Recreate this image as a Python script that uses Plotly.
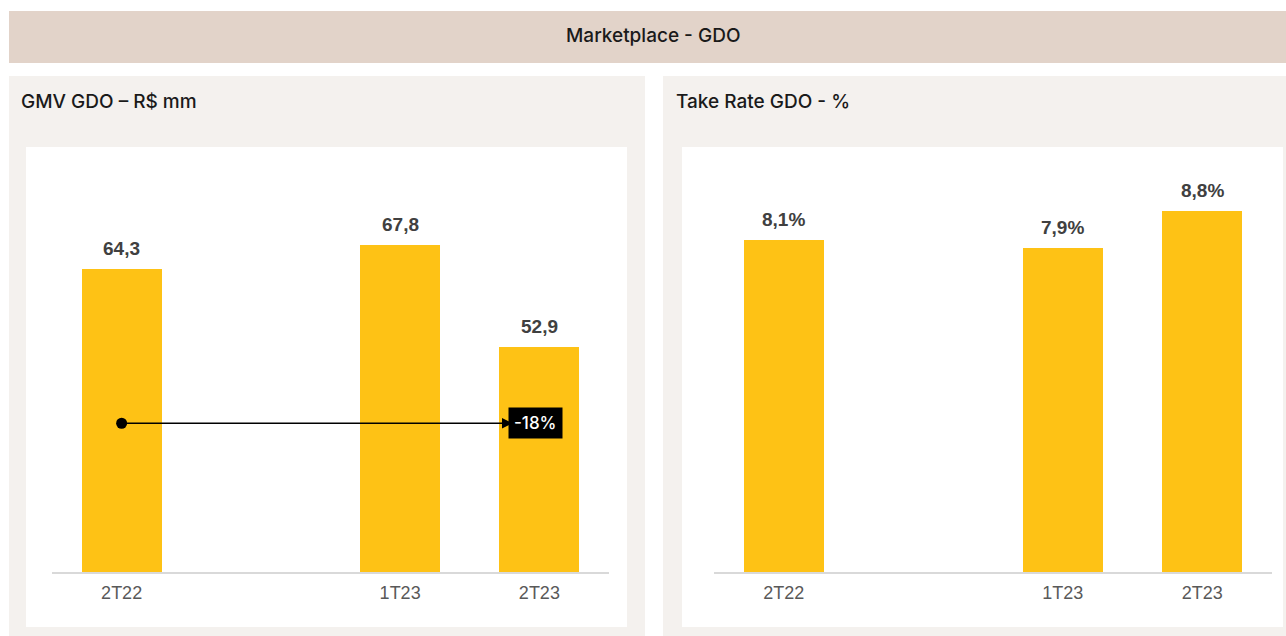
import plotly.graph_objects as go

W, H = 1286, 636

bar_slots = [0, 2, 3]
bar_labels = ["2T22", "1T23", "2T23"]
gmv = [64.3, 67.8, 52.9]
take_rate = [8.1, 7.9, 8.8]
gmv_change = "-18%"
arrow_level = 41.8

bar_color = "#FEC215"
label_color = "#404040"
tick_color = "#595959"


def px_x(p):
    return p / W


def px_y(p):
    return 1 - p / H


def br(v):
    # brazilian decimal comma
    return f"{v:.1f}".replace(".", ",")


fig = go.Figure()

fig.add_trace(go.Bar(
    x=bar_slots, y=gmv, width=0.575, marker=dict(color=bar_color, line=dict(width=0)),
    xaxis="x", yaxis="y", hoverinfo="skip", showlegend=False,
))
fig.add_trace(go.Bar(
    x=bar_slots, y=take_rate, width=0.575, marker=dict(color=bar_color, line=dict(width=0)),
    xaxis="x2", yaxis="y2", hoverinfo="skip", showlegend=False,
))
# start dot of the variation arrow
fig.add_trace(go.Scatter(
    x=[bar_slots[0]], y=[arrow_level], mode="markers",
    marker=dict(color="black", size=11), xaxis="x", yaxis="y",
    hoverinfo="skip", showlegend=False,
))

shapes = []
# top band
shapes.append(dict(type="rect", xref="paper", yref="paper",
                   x0=px_x(9), x1=1, y0=px_y(63), y1=px_y(11),
                   fillcolor="#E2D3C9", line=dict(width=0), layer="below"))
# panels
for x0, x1, wx0, wx1 in [(9, 645, 26, 627), (663, 1286, 682, 1283)]:
    shapes.append(dict(type="rect", xref="paper", yref="paper",
                       x0=px_x(x0), x1=px_x(x1), y0=0, y1=px_y(76),
                       fillcolor="#F4F1EE", line=dict(width=0), layer="below"))
    shapes.append(dict(type="rect", xref="paper", yref="paper",
                       x0=px_x(wx0), x1=px_x(wx1), y0=px_y(627), y1=px_y(147),
                       fillcolor="white", line=dict(width=0), layer="below"))

title_font = dict(family="Inter", size=19, color="#1a1a1a", weight=500)
annotations = []
annotations.append(dict(text="Marketplace - GDO", xref="paper", yref="paper",
                        x=px_x(653), y=px_y(36), yanchor="middle", showarrow=False,
                        font=title_font))
annotations.append(dict(text="GMV GDO – R$ mm", xref="paper", yref="paper",
                        x=px_x(19), y=px_y(101), xanchor="left", yanchor="middle",
                        showarrow=False, font=title_font))
annotations.append(dict(text="Take Rate GDO - %", xref="paper", yref="paper",
                        x=px_x(674), y=px_y(101), xanchor="left", yanchor="middle",
                        showarrow=False, font=title_font))

value_font = dict(family="Liberation Sans", size=19, color=label_color)
for s, v in zip(bar_slots, gmv):
    annotations.append(dict(text="<b>" + br(v) + "</b>", x=s, y=v, xref="x", yref="y",
                            yanchor="bottom", yshift=8, showarrow=False, font=value_font))
for s, v in zip(bar_slots, take_rate):
    annotations.append(dict(text="<b>" + br(v) + "%</b>", x=s, y=v, xref="x2", yref="y2",
                            yanchor="bottom", yshift=8, showarrow=False, font=value_font))

# arrow from 2T22 to 2T23
annotations.append(dict(text="", x=bar_slots[2], y=arrow_level, xref="x", yref="y",
                        ax=bar_slots[0], ay=arrow_level, axref="x", ayref="y",
                        showarrow=True, arrowhead=2, arrowsize=1.3, arrowwidth=1.6,
                        arrowcolor="black", standoff=27))
annotations.append(dict(text=gmv_change, x=bar_slots[2], y=arrow_level, xref="x", yref="y",
                        xshift=-3.5, showarrow=False, bgcolor="black", borderpad=5,
                        font=dict(family="Inter", size=17, color="white", weight=500)))

axis_common = dict(range=[-0.5, 3.5], tickmode="array", tickvals=bar_slots, ticktext=bar_labels,
                   showgrid=False, zeroline=False, showline=True, linecolor="#D9D9D9",
                   linewidth=2, ticks="", ticklabelstandoff=3,
                   tickfont=dict(family="Liberation Sans", size=18, color=tick_color),
                   fixedrange=True)
yaxis_common = dict(showgrid=False, zeroline=False, showticklabels=False, showline=False,
                    fixedrange=True, domain=[px_y(572), px_y(147)])

fig.update_layout(
    width=W, height=H, margin=dict(l=0, r=0, t=0, b=0),
    paper_bgcolor="white", plot_bgcolor="rgba(0,0,0,0)",
    xaxis=dict(axis_common, domain=[px_x(52), px_x(609)], anchor="y"),
    yaxis=dict(yaxis_common, range=[20.1, 82.1], anchor="x"),
    xaxis2=dict(axis_common, domain=[px_x(714), px_x(1272)], anchor="y2"),
    yaxis2=dict(yaxis_common, range=[0, 10.37], anchor="x2"),
    shapes=shapes, annotations=annotations, bargap=0,
)

# drop the default page margin so the figure sits at the window origin
fig.write_html("out.html", config={"displayModeBar": False},
               post_script="document.body.style.margin='0';document.body.style.overflow='hidden';")
